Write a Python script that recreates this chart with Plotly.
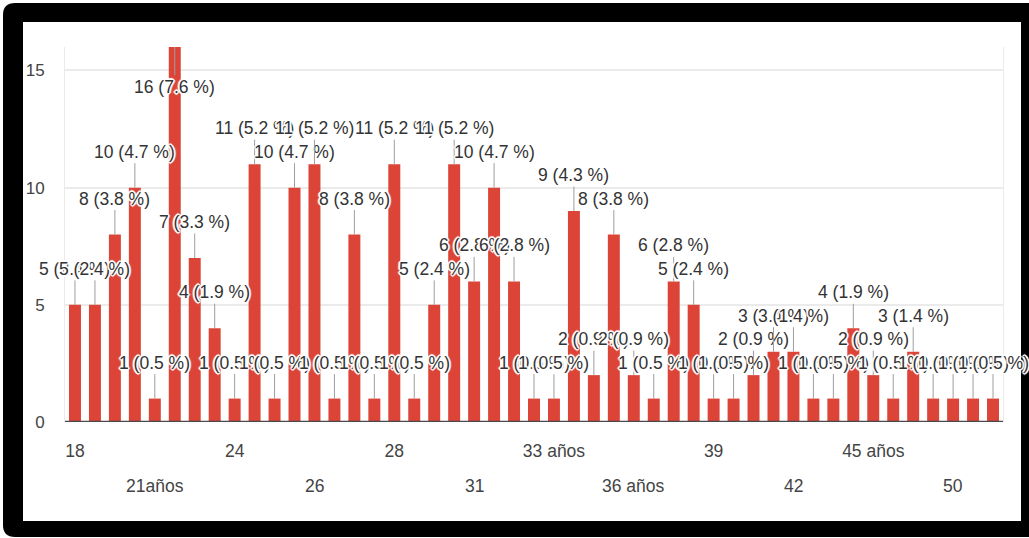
import plotly.graph_objects as go

# ---------------- data ----------------
categories = ["18", "19", "20", "21", "21años", "22", "23", "23 años", "24", "24 años",
              "25", "25 años", "26", "26 años", "27", "27 años", "28", "28 años", "29", "30",
              "31", "32", "32 años", "33", "33 años", "34", "34 años", "35", "36 años", "36",
              "37", "38", "39", "39 años", "40", "40 años", "42", "41", "43", "44",
              "45 años", "45", "46", "48", "50", "52", "55"]
counts = [5, 5, 8, 10, 1, 16, 7, 4, 1, 11,
          1, 10, 11, 1, 8, 1, 11, 1, 5, 11,
          6, 10, 6, 1, 1, 9, 2, 8, 2, 1,
          6, 5, 1, 1, 2, 3, 3, 1, 1, 4,
          2, 1, 3, 1, 1, 1, 1]
row1_ticks = ["18", "24", "28", "33 años", "39", "45 años"]
row2_ticks = ["21años", "26", "31", "36 años", "42", "50"]
y_ticks = [0, 5, 10, 15, 16]
y_ticktext = ["0", "5", "10", "15", ""]

# ---------------- geometry helpers (pixel -> paper) ----------------
W, H = 1029, 538
L, R, T, B = 65, 26, 47, 116
PW, PH = W - L - R, H - T - B


def px_x(p):
    return (p - L) / PW


def px_y(p):
    return (H - B - p) / PH


FONT = "Arial, Liberation Sans, sans-serif"
RED = "#db4437"
total = sum(counts)
labels = [f"{v} ({round(v / total * 100, 1)} %)" for v in counts]
halo = ("1px 1px 0 #fff, -1px -1px 0 #fff, 1px -1px 0 #fff, -1px 1px 0 #fff, "
        "2px 0 1px #fff, -2px 0 1px #fff, 0 2px 1px #fff, 0 -2px 1px #fff")

fig = go.Figure()
fig.add_trace(go.Bar(x=categories, y=counts, marker=dict(color=RED, line=dict(width=0)),
                     hoverinfo="x+y"))

annotations = []
ymax = max(counts)
for i, (v, t) in enumerate(zip(counts, labels)):
    annotations.append(dict(
        x=i, y=v, xref="x", yref="y", text=t,
        showarrow=True, arrowhead=0, arrowwidth=1, arrowcolor="#9e9e9e",
        ax=0, ay=(40 if v >= ymax - 0.5 else -36), standoff=0,
        font=dict(family=FONT, size=17.5, color="#333333", shadow=halo),
    ))
for t in row2_ticks:
    annotations.append(dict(
        x=categories.index(t), y=px_y(486), xref="x", yref="paper", text=t, showarrow=False,
        yanchor="middle", font=dict(family=FONT, size=17.5, color="#444444"),
    ))

shapes = [
    # black rounded frame
    dict(type="path", xref="paper", yref="paper", layer="below",
         path=(f"M {px_x(15)} {px_y(3)} L {px_x(1040)} {px_y(3)} L {px_x(1040)} {px_y(537)} "
               f"L {px_x(15)} {px_y(537)} Q {px_x(3)} {px_y(537)} {px_x(3)} {px_y(525)} "
               f"L {px_x(3)} {px_y(15)} Q {px_x(3)} {px_y(3)} {px_x(15)} {px_y(3)} Z"),
         fillcolor="black", line=dict(width=0)),
    dict(type="rect", xref="paper", yref="paper", layer="below",
         x0=px_x(23), x1=px_x(1021), y0=px_y(22), y1=px_y(521),
         fillcolor="white", line=dict(width=0)),
    # baseline
    dict(type="line", xref="paper", yref="y", x0=0, x1=1, y0=0, y1=0,
         line=dict(color="#4a4a4a", width=2.5), layer="above"),
]

fig.update_layout(
    width=W, height=H,
    margin=dict(l=L, r=R, t=T, b=B, pad=0),
    paper_bgcolor="white", plot_bgcolor="white",
    showlegend=False, bargap=0.4,
    annotations=annotations, shapes=shapes,
    font=dict(family=FONT, color="#444444"),
    xaxis=dict(type="category", categoryorder="array", categoryarray=categories,
               range=[-0.5, len(categories) - 0.5],
               tickmode="array", tickvals=row1_ticks, ticktext=row1_ticks,
               ticks="", showgrid=False, zeroline=False, showline=False,
               tickfont=dict(family=FONT, size=17.5, color="#444444"),
               ticklabelstandoff=16, tickangle=0),
    yaxis=dict(range=[0, 16], tickmode="array", tickvals=y_ticks, ticktext=y_ticktext,
               showgrid=True, gridcolor="#ebebeb", gridwidth=2,
               zeroline=False, showline=True, mirror=True, linecolor="#ebebeb", linewidth=1,
               ticks="", tickfont=dict(family=FONT, size=17, color="#444444"),
               ticklabelstandoff=16),
)

fig.write_html("out.html", config={"displayModeBar": False},
               post_script="document.body.style.margin='0';document.body.style.overflow='hidden';")
